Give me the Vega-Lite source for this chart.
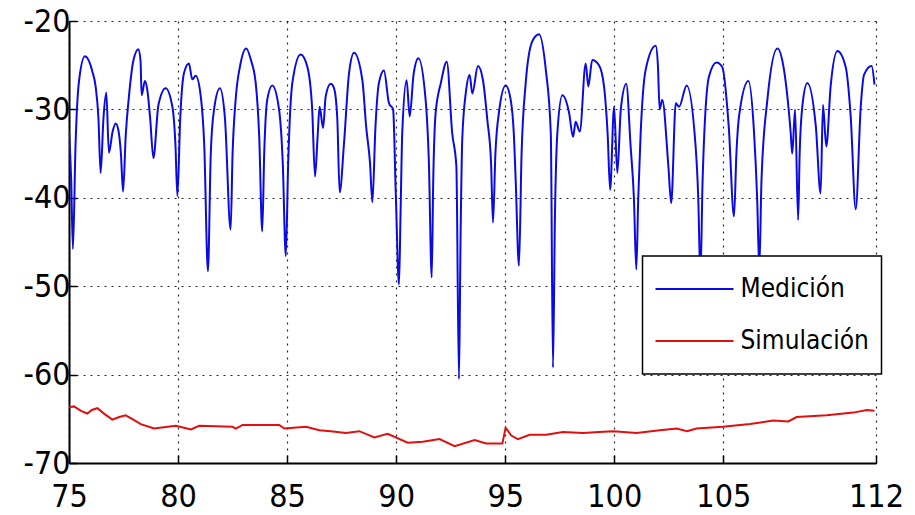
{
  "$schema": "https://vega.github.io/schema/vega-lite/v6.json",
  "width": 807,
  "height": 442,
  "autosize": {"type": "none"},
  "padding": {"left": 69, "top": 21, "right": 39, "bottom": 52},
  "background": "white",
  "config": {
    "view": {"stroke": null},
    "font": "'Liberation Sans Narrow', 'DejaVu Sans Condensed', 'Liberation Sans', sans-serif",
    "axis": {
      "grid": true,
      "gridDash": [2, 5],
      "gridColor": "#000000",
      "gridOpacity": 0.85,
      "gridWidth": 1.2,
      "domainColor": "#000000",
      "domainWidth": 2,
      "tickColor": "#000000",
      "tickWidth": 1.5,
      "tickSize": -8,
      "labelFont": "'Liberation Sans Narrow', 'DejaVu Sans Condensed', 'Liberation Sans', sans-serif",
      "labelFontSize": 32,
      "labelColor": "#000000",
      "labelFlush": false,
      "labelOverlap": false,
      "labelBound": false,
      "title": null
    }
  },
  "datasets": {
    "med": [
      {"x": 75.0, "y": -32.5, "s": "Medición"},
      {"x": 75.1, "y": -38, "s": "Medición"},
      {"x": 75.18, "y": -45.8, "s": "Medición"},
      {"x": 75.3, "y": -34, "s": "Medición"},
      {"x": 75.45, "y": -27, "s": "Medición"},
      {"x": 75.73, "y": -24.0, "s": "Medición"},
      {"x": 76.07, "y": -25.7, "s": "Medición"},
      {"x": 76.22, "y": -27.4, "s": "Medición"},
      {"x": 76.35, "y": -31, "s": "Medición"},
      {"x": 76.45, "y": -37.2, "s": "Medición"},
      {"x": 76.58, "y": -31, "s": "Medición"},
      {"x": 76.71, "y": -28.1, "s": "Medición"},
      {"x": 76.83, "y": -34.9, "s": "Medición"},
      {"x": 77.0, "y": -32.5, "s": "Medición"},
      {"x": 77.14, "y": -31.6, "s": "Medición"},
      {"x": 77.26, "y": -32.3, "s": "Medición"},
      {"x": 77.38, "y": -35, "s": "Medición"},
      {"x": 77.48, "y": -39.3, "s": "Medición"},
      {"x": 77.6, "y": -33, "s": "Medición"},
      {"x": 77.75, "y": -28.5, "s": "Medición"},
      {"x": 77.95, "y": -24.5, "s": "Medición"},
      {"x": 78.18, "y": -23.2, "s": "Medición"},
      {"x": 78.28, "y": -24.5, "s": "Medición"},
      {"x": 78.33, "y": -28.4, "s": "Medición"},
      {"x": 78.48, "y": -26.8, "s": "Medición"},
      {"x": 78.59, "y": -27.8, "s": "Medición"},
      {"x": 78.72, "y": -31, "s": "Medición"},
      {"x": 78.87, "y": -35.5, "s": "Medición"},
      {"x": 79.1, "y": -29.5, "s": "Medición"},
      {"x": 79.43, "y": -27.6, "s": "Medición"},
      {"x": 79.74, "y": -29.7, "s": "Medición"},
      {"x": 79.88, "y": -34, "s": "Medición"},
      {"x": 79.97, "y": -39.8, "s": "Medición"},
      {"x": 80.1, "y": -31, "s": "Medición"},
      {"x": 80.27, "y": -25.9, "s": "Medición"},
      {"x": 80.5, "y": -24.8, "s": "Medición"},
      {"x": 80.65, "y": -26.6, "s": "Medición"},
      {"x": 80.81, "y": -26.2, "s": "Medición"},
      {"x": 81.04, "y": -28.5, "s": "Medición"},
      {"x": 81.2, "y": -34, "s": "Medición"},
      {"x": 81.37, "y": -48.3, "s": "Medición"},
      {"x": 81.5, "y": -35, "s": "Medición"},
      {"x": 81.65, "y": -30.0, "s": "Medición"},
      {"x": 81.92, "y": -27.6, "s": "Medición"},
      {"x": 82.15, "y": -31, "s": "Medición"},
      {"x": 82.41, "y": -43.6, "s": "Medición"},
      {"x": 82.5, "y": -35, "s": "Medición"},
      {"x": 82.64, "y": -28.9, "s": "Medición"},
      {"x": 82.85, "y": -25, "s": "Medición"},
      {"x": 83.13, "y": -23.1, "s": "Medición"},
      {"x": 83.35, "y": -24.5, "s": "Medición"},
      {"x": 83.56, "y": -27.0, "s": "Medición"},
      {"x": 83.72, "y": -33, "s": "Medición"},
      {"x": 83.86, "y": -43.8, "s": "Medición"},
      {"x": 83.95, "y": -35, "s": "Medición"},
      {"x": 84.09, "y": -28.9, "s": "Medición"},
      {"x": 84.32, "y": -27.3, "s": "Medición"},
      {"x": 84.63, "y": -30.0, "s": "Medición"},
      {"x": 84.8, "y": -36, "s": "Medición"},
      {"x": 84.94, "y": -46.6, "s": "Medición"},
      {"x": 85.05, "y": -36, "s": "Medición"},
      {"x": 85.24, "y": -27.0, "s": "Medición"},
      {"x": 85.62, "y": -23.8, "s": "Medición"},
      {"x": 85.93, "y": -25.2, "s": "Medición"},
      {"x": 86.15, "y": -30, "s": "Medición"},
      {"x": 86.28, "y": -37.6, "s": "Medición"},
      {"x": 86.4, "y": -33, "s": "Medición"},
      {"x": 86.49, "y": -29.7, "s": "Medición"},
      {"x": 86.65, "y": -32.1, "s": "Medición"},
      {"x": 86.77, "y": -28.5, "s": "Medición"},
      {"x": 87.0, "y": -27.1, "s": "Medición"},
      {"x": 87.15, "y": -27.6, "s": "Medición"},
      {"x": 87.3, "y": -31, "s": "Medición"},
      {"x": 87.41, "y": -39.4, "s": "Medición"},
      {"x": 87.61, "y": -33.8, "s": "Medición"},
      {"x": 87.84, "y": -25.9, "s": "Medición"},
      {"x": 88.07, "y": -23.6, "s": "Medición"},
      {"x": 88.45, "y": -26.7, "s": "Medición"},
      {"x": 88.63, "y": -32.1, "s": "Medición"},
      {"x": 88.8, "y": -36, "s": "Medición"},
      {"x": 88.91, "y": -40.5, "s": "Medición"},
      {"x": 89.05, "y": -32, "s": "Medición"},
      {"x": 89.21, "y": -27.0, "s": "Medición"},
      {"x": 89.44, "y": -25.6, "s": "Medición"},
      {"x": 89.67, "y": -29.3, "s": "Medición"},
      {"x": 89.86, "y": -30.0, "s": "Medición"},
      {"x": 89.98, "y": -39.3, "s": "Medición"},
      {"x": 90.13, "y": -49.8, "s": "Medición"},
      {"x": 90.2, "y": -42, "s": "Medición"},
      {"x": 90.28, "y": -32.6, "s": "Medición"},
      {"x": 90.48, "y": -26.7, "s": "Medición"},
      {"x": 90.62, "y": -30.8, "s": "Medición"},
      {"x": 90.8, "y": -26, "s": "Medición"},
      {"x": 91.02, "y": -24.2, "s": "Medición"},
      {"x": 91.35, "y": -28.9, "s": "Medición"},
      {"x": 91.5, "y": -36, "s": "Medición"},
      {"x": 91.63, "y": -49.0, "s": "Medición"},
      {"x": 91.7, "y": -38, "s": "Medición"},
      {"x": 91.81, "y": -30.4, "s": "Medición"},
      {"x": 92.05, "y": -27, "s": "Medición"},
      {"x": 92.32, "y": -24.6, "s": "Medición"},
      {"x": 92.57, "y": -32.7, "s": "Medición"},
      {"x": 92.76, "y": -36.4, "s": "Medición"},
      {"x": 92.88, "y": -60.5, "s": "Medición"},
      {"x": 92.95, "y": -45, "s": "Medición"},
      {"x": 93.03, "y": -33.4, "s": "Medición"},
      {"x": 93.2, "y": -28, "s": "Medición"},
      {"x": 93.37, "y": -26.1, "s": "Medición"},
      {"x": 93.49, "y": -28.2, "s": "Medición"},
      {"x": 93.75, "y": -25.1, "s": "Medición"},
      {"x": 93.98, "y": -26.7, "s": "Medición"},
      {"x": 94.18, "y": -31.2, "s": "Medición"},
      {"x": 94.35, "y": -36, "s": "Medición"},
      {"x": 94.44, "y": -42.8, "s": "Medición"},
      {"x": 94.55, "y": -35, "s": "Medición"},
      {"x": 94.72, "y": -30.2, "s": "Medición"},
      {"x": 95.02, "y": -27.3, "s": "Medición"},
      {"x": 95.25, "y": -28.9, "s": "Medición"},
      {"x": 95.4, "y": -33, "s": "Medición"},
      {"x": 95.48, "y": -38.0, "s": "Medición"},
      {"x": 95.63, "y": -47.7, "s": "Medición"},
      {"x": 95.75, "y": -35, "s": "Medición"},
      {"x": 95.94, "y": -27.0, "s": "Medición"},
      {"x": 96.24, "y": -22.3, "s": "Medición"},
      {"x": 96.55, "y": -21.5, "s": "Medición"},
      {"x": 96.86, "y": -25.5, "s": "Medición"},
      {"x": 97.09, "y": -32.7, "s": "Medición"},
      {"x": 97.19, "y": -59.2, "s": "Medición"},
      {"x": 97.28, "y": -42, "s": "Medición"},
      {"x": 97.39, "y": -32.7, "s": "Medición"},
      {"x": 97.62, "y": -28.4, "s": "Medición"},
      {"x": 97.93, "y": -30.4, "s": "Medición"},
      {"x": 98.11, "y": -33.1, "s": "Medición"},
      {"x": 98.23, "y": -31.4, "s": "Medición"},
      {"x": 98.42, "y": -32.5, "s": "Medición"},
      {"x": 98.69, "y": -24.8, "s": "Medición"},
      {"x": 98.81, "y": -27.4, "s": "Medición"},
      {"x": 98.99, "y": -24.4, "s": "Medición"},
      {"x": 99.3, "y": -25.0, "s": "Medición"},
      {"x": 99.53, "y": -27.4, "s": "Medición"},
      {"x": 99.7, "y": -33, "s": "Medición"},
      {"x": 99.81, "y": -39.1, "s": "Medición"},
      {"x": 99.99, "y": -29.7, "s": "Medición"},
      {"x": 100.14, "y": -37.2, "s": "Medición"},
      {"x": 100.3, "y": -30.0, "s": "Medición"},
      {"x": 100.55, "y": -27.1, "s": "Medición"},
      {"x": 100.75, "y": -34.2, "s": "Medición"},
      {"x": 100.9, "y": -40, "s": "Medición"},
      {"x": 101.01, "y": -48.1, "s": "Medición"},
      {"x": 101.1, "y": -40, "s": "Medición"},
      {"x": 101.21, "y": -32.7, "s": "Medición"},
      {"x": 101.44, "y": -25.5, "s": "Medición"},
      {"x": 101.9, "y": -22.8, "s": "Medición"},
      {"x": 102.0, "y": -25, "s": "Medición"},
      {"x": 102.08, "y": -30.0, "s": "Medición"},
      {"x": 102.2, "y": -28.9, "s": "Medición"},
      {"x": 102.48, "y": -36.4, "s": "Medición"},
      {"x": 102.61, "y": -40.6, "s": "Medición"},
      {"x": 102.82, "y": -29.3, "s": "Medición"},
      {"x": 102.97, "y": -29.7, "s": "Medición"},
      {"x": 103.32, "y": -27.3, "s": "Medición"},
      {"x": 103.73, "y": -34.2, "s": "Medición"},
      {"x": 103.85, "y": -40, "s": "Medición"},
      {"x": 103.95, "y": -49, "s": "Medición"},
      {"x": 104.05, "y": -38, "s": "Medición"},
      {"x": 104.34, "y": -26.3, "s": "Medición"},
      {"x": 104.69, "y": -24.7, "s": "Medición"},
      {"x": 104.95, "y": -25.2, "s": "Medición"},
      {"x": 105.25, "y": -32, "s": "Medición"},
      {"x": 105.49, "y": -42.1, "s": "Medición"},
      {"x": 105.6, "y": -35, "s": "Medición"},
      {"x": 105.72, "y": -30.8, "s": "Medición"},
      {"x": 106.15, "y": -26.8, "s": "Medición"},
      {"x": 106.41, "y": -32.7, "s": "Medición"},
      {"x": 106.55, "y": -40, "s": "Medición"},
      {"x": 106.65, "y": -48, "s": "Medición"},
      {"x": 106.75, "y": -38, "s": "Medición"},
      {"x": 107.02, "y": -28.9, "s": "Medición"},
      {"x": 107.48, "y": -23.1, "s": "Medición"},
      {"x": 107.78, "y": -25.5, "s": "Medición"},
      {"x": 108.09, "y": -32.7, "s": "Medición"},
      {"x": 108.16, "y": -35.0, "s": "Medición"},
      {"x": 108.29, "y": -30.0, "s": "Medición"},
      {"x": 108.43, "y": -42.5, "s": "Medición"},
      {"x": 108.5, "y": -35, "s": "Medición"},
      {"x": 108.62, "y": -29.7, "s": "Medición"},
      {"x": 108.85, "y": -27.0, "s": "Medición"},
      {"x": 109.24, "y": -31.9, "s": "Medición"},
      {"x": 109.46, "y": -39.5, "s": "Medición"},
      {"x": 109.57, "y": -29.5, "s": "Medición"},
      {"x": 109.72, "y": -34.2, "s": "Medición"},
      {"x": 109.92, "y": -27.4, "s": "Medición"},
      {"x": 110.23, "y": -23.4, "s": "Medición"},
      {"x": 110.61, "y": -25.2, "s": "Medición"},
      {"x": 110.84, "y": -30.8, "s": "Medición"},
      {"x": 111.07, "y": -41.3, "s": "Medición"},
      {"x": 111.3, "y": -29.7, "s": "Medición"},
      {"x": 111.45, "y": -26.1, "s": "Medición"},
      {"x": 111.8, "y": -25.1, "s": "Medición"},
      {"x": 111.93, "y": -27.2, "s": "Medición"}
    ],
    "sim": [
      {"x": 75.0, "y": -63.7, "s": "Simulación"},
      {"x": 75.23, "y": -63.6, "s": "Simulación"},
      {"x": 75.55, "y": -64.1, "s": "Simulación"},
      {"x": 75.84, "y": -64.4, "s": "Simulación"},
      {"x": 76.05, "y": -64.0, "s": "Simulación"},
      {"x": 76.3, "y": -63.8, "s": "Simulación"},
      {"x": 76.65, "y": -64.5, "s": "Simulación"},
      {"x": 76.99, "y": -65.1, "s": "Simulación"},
      {"x": 77.3, "y": -64.8, "s": "Simulación"},
      {"x": 77.6, "y": -64.6, "s": "Simulación"},
      {"x": 77.95, "y": -65.1, "s": "Simulación"},
      {"x": 78.29, "y": -65.6, "s": "Simulación"},
      {"x": 78.9, "y": -66.1, "s": "Simulación"},
      {"x": 79.9, "y": -65.8, "s": "Simulación"},
      {"x": 80.59, "y": -66.2, "s": "Simulación"},
      {"x": 80.97, "y": -65.8, "s": "Simulación"},
      {"x": 82.5, "y": -65.9, "s": "Simulación"},
      {"x": 82.65, "y": -66.1, "s": "Simulación"},
      {"x": 82.96, "y": -65.7, "s": "Simulación"},
      {"x": 84.64, "y": -65.7, "s": "Simulación"},
      {"x": 84.87, "y": -66.1, "s": "Simulación"},
      {"x": 85.87, "y": -65.9, "s": "Simulación"},
      {"x": 86.48, "y": -66.3, "s": "Simulación"},
      {"x": 87.0, "y": -66.4, "s": "Simulación"},
      {"x": 87.7, "y": -66.6, "s": "Simulación"},
      {"x": 88.31, "y": -66.4, "s": "Simulación"},
      {"x": 89.0, "y": -67.1, "s": "Simulación"},
      {"x": 89.61, "y": -66.7, "s": "Simulación"},
      {"x": 90.53, "y": -67.7, "s": "Simulación"},
      {"x": 91.22, "y": -67.6, "s": "Simulación"},
      {"x": 91.99, "y": -67.3, "s": "Simulación"},
      {"x": 92.68, "y": -68.1, "s": "Simulación"},
      {"x": 93.6, "y": -67.4, "s": "Simulación"},
      {"x": 94.13, "y": -67.8, "s": "Simulación"},
      {"x": 94.87, "y": -67.8, "s": "Simulación"},
      {"x": 95.02, "y": -66.0, "s": "Simulación"},
      {"x": 95.28, "y": -66.9, "s": "Simulación"},
      {"x": 95.58, "y": -67.3, "s": "Simulación"},
      {"x": 96.12, "y": -66.8, "s": "Simulación"},
      {"x": 96.88, "y": -66.8, "s": "Simulación"},
      {"x": 97.65, "y": -66.5, "s": "Simulación"},
      {"x": 98.57, "y": -66.6, "s": "Simulación"},
      {"x": 99.3, "y": -66.5, "s": "Simulación"},
      {"x": 99.95, "y": -66.4, "s": "Simulación"},
      {"x": 101.02, "y": -66.6, "s": "Simulación"},
      {"x": 102.09, "y": -66.3, "s": "Simulación"},
      {"x": 102.86, "y": -66.1, "s": "Simulación"},
      {"x": 103.34, "y": -66.4, "s": "Simulación"},
      {"x": 103.77, "y": -66.1, "s": "Simulación"},
      {"x": 104.99, "y": -65.9, "s": "Simulación"},
      {"x": 106.22, "y": -65.6, "s": "Simulación"},
      {"x": 107.29, "y": -65.2, "s": "Simulación"},
      {"x": 107.98, "y": -65.3, "s": "Simulación"},
      {"x": 108.36, "y": -64.8, "s": "Simulación"},
      {"x": 109.74, "y": -64.6, "s": "Simulación"},
      {"x": 110.96, "y": -64.3, "s": "Simulación"},
      {"x": 111.58, "y": -64.0, "s": "Simulación"},
      {"x": 111.93, "y": -64.1, "s": "Simulación"}
    ]
  },
  "encoding": {
    "x": {
      "field": "x",
      "type": "quantitative",
      "scale": {"domain": [75, 112], "nice": false, "zero": false},
      "axis": {"values": [75, 80, 85, 90, 95, 100, 105, 112], "labelPadding": 26}
    },
    "y": {
      "field": "y",
      "type": "quantitative",
      "scale": {"domain": [-70, -20], "nice": false, "zero": false},
      "axis": {"values": [-70, -60, -50, -40, -30, -20], "labelPadding": 7, "labelExpr": "'' + datum.value"}
    },
    "color": {
      "field": "s",
      "type": "nominal",
      "scale": {"domain": ["Medición", "Simulación"], "range": ["#0a0ae6", "#e01010"]},
      "legend": {
        "title": null,
        "orient": "none",
        "legendX": 573.5,
        "legendY": 235,
        "direction": "vertical",
        "symbolType": "stroke",
        "symbolSize": 6084,
        "symbolStrokeWidth": 2,
        "clipHeight": 42,
        "rowPadding": 10,
        "padding": 12,
        "labelOffset": 6,
        "labelFont": "'Liberation Sans Narrow', 'DejaVu Sans Condensed', 'Liberation Sans', sans-serif",
        "labelFontSize": 26,
        "labelColor": "#000000",
        "labelLimit": 300,
        "strokeColor": "#000000",
        "fillColor": "#ffffff",
        "cornerRadius": 0,
        "encode": {"legend": {"update": {"strokeWidth": {"value": 1.5}}}}
      }
    }
  },
  "layer": [
    {"data": {"name": "med"}, "mark": {"type": "line", "strokeWidth": 2, "interpolate": "monotone", "clip": true}},
    {"data": {"name": "sim"}, "mark": {"type": "line", "strokeWidth": 2, "clip": true}}
  ]
}
